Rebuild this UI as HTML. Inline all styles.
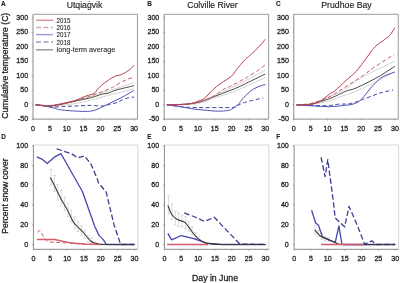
<!DOCTYPE html>
<html><head><meta charset="utf-8"><style>
html,body{margin:0;padding:0;background:#fff;}
svg{display:block;will-change:transform;filter:blur(0.3px);}
text{font-family:"Liberation Sans", sans-serif;stroke:#222;stroke-width:0.3px;}
</style></head><body>
<svg width="400" height="283" viewBox="0 0 400 283">
<rect width="400" height="283" fill="#fff"/>
<path d="M33.0,14.3 H137.47 V119.1" fill="none" stroke="#9a9a9a" stroke-width="1"/>
<path d="M33.0,14.3 V119.1 H137.47" fill="none" stroke="#8a8a8a" stroke-width="1"/>
<path d="M31.8,119.30 H33.0" stroke="#8a8a8a" stroke-width="0.8"/>
<text x="28.1" y="121.45" font-size="8.0" text-anchor="end" font-weight="normal" fill="#222" textLength="10.3" lengthAdjust="spacingAndGlyphs" >-50</text>
<path d="M31.8,104.80 H33.0" stroke="#8a8a8a" stroke-width="0.8"/>
<text x="28.1" y="106.95" font-size="8.0" text-anchor="end" font-weight="normal" fill="#222" textLength="3.95" lengthAdjust="spacingAndGlyphs" >0</text>
<path d="M31.8,90.30 H33.0" stroke="#8a8a8a" stroke-width="0.8"/>
<text x="28.1" y="92.45" font-size="8.0" text-anchor="end" font-weight="normal" fill="#222" textLength="7.9" lengthAdjust="spacingAndGlyphs" >50</text>
<path d="M31.8,75.80 H33.0" stroke="#8a8a8a" stroke-width="0.8"/>
<text x="28.1" y="77.95" font-size="8.0" text-anchor="end" font-weight="normal" fill="#222" textLength="11.850000000000001" lengthAdjust="spacingAndGlyphs" >100</text>
<path d="M31.8,61.30 H33.0" stroke="#8a8a8a" stroke-width="0.8"/>
<text x="28.1" y="63.449999999999996" font-size="8.0" text-anchor="end" font-weight="normal" fill="#222" textLength="11.850000000000001" lengthAdjust="spacingAndGlyphs" >150</text>
<path d="M31.8,46.80 H33.0" stroke="#8a8a8a" stroke-width="0.8"/>
<text x="28.1" y="48.95" font-size="8.0" text-anchor="end" font-weight="normal" fill="#222" textLength="11.850000000000001" lengthAdjust="spacingAndGlyphs" >200</text>
<path d="M31.8,32.30 H33.0" stroke="#8a8a8a" stroke-width="0.8"/>
<text x="28.1" y="34.449999999999996" font-size="8.0" text-anchor="end" font-weight="normal" fill="#222" textLength="11.850000000000001" lengthAdjust="spacingAndGlyphs" >250</text>
<path d="M31.8,17.80 H33.0" stroke="#8a8a8a" stroke-width="0.8"/>
<text x="28.1" y="19.949999999999996" font-size="8.0" text-anchor="end" font-weight="normal" fill="#222" textLength="11.850000000000001" lengthAdjust="spacingAndGlyphs" >300</text>
<path d="M33.00,119.1 V120.3" stroke="#8a8a8a" stroke-width="0.8"/>
<text x="33.00" y="130.79999999999998" font-size="8.0" text-anchor="middle" font-weight="normal" fill="#222" textLength="3.95" lengthAdjust="spacingAndGlyphs" >0</text>
<path d="M49.85,119.1 V120.3" stroke="#8a8a8a" stroke-width="0.8"/>
<text x="49.85" y="130.79999999999998" font-size="8.0" text-anchor="middle" font-weight="normal" fill="#222" textLength="3.95" lengthAdjust="spacingAndGlyphs" >5</text>
<path d="M66.70,119.1 V120.3" stroke="#8a8a8a" stroke-width="0.8"/>
<text x="66.70" y="130.79999999999998" font-size="8.0" text-anchor="middle" font-weight="normal" fill="#222" textLength="7.9" lengthAdjust="spacingAndGlyphs" >10</text>
<path d="M83.55,119.1 V120.3" stroke="#8a8a8a" stroke-width="0.8"/>
<text x="83.55" y="130.79999999999998" font-size="8.0" text-anchor="middle" font-weight="normal" fill="#222" textLength="7.9" lengthAdjust="spacingAndGlyphs" >15</text>
<path d="M100.40,119.1 V120.3" stroke="#8a8a8a" stroke-width="0.8"/>
<text x="100.40" y="130.79999999999998" font-size="8.0" text-anchor="middle" font-weight="normal" fill="#222" textLength="7.9" lengthAdjust="spacingAndGlyphs" >20</text>
<path d="M117.25,119.1 V120.3" stroke="#8a8a8a" stroke-width="0.8"/>
<text x="117.25" y="130.79999999999998" font-size="8.0" text-anchor="middle" font-weight="normal" fill="#222" textLength="7.9" lengthAdjust="spacingAndGlyphs" >25</text>
<path d="M134.10,119.1 V120.3" stroke="#8a8a8a" stroke-width="0.8"/>
<text x="134.10" y="130.79999999999998" font-size="8.0" text-anchor="middle" font-weight="normal" fill="#222" textLength="7.9" lengthAdjust="spacingAndGlyphs" >30</text>
<path d="M35.70,104.80 C38.05,104.90 44.68,105.77 49.85,105.38 C55.02,104.99 61.08,103.64 66.70,102.48 C72.32,101.32 76.64,100.31 83.55,98.42 C90.46,96.53 99.73,93.83 108.15,91.17 C116.58,88.51 129.78,83.92 134.10,82.47" fill="none" stroke="#c8c8c8" stroke-width="0.8" stroke-linejoin="round" opacity="1"/>
<path d="M35.70,104.80 C38.05,105.09 44.68,106.54 49.85,106.54 C55.02,106.54 61.08,105.57 66.70,104.80 C72.32,104.03 76.64,103.45 83.55,101.90 C90.46,100.35 99.73,97.69 108.15,95.52 C116.58,93.34 129.78,89.96 134.10,88.85" fill="none" stroke="#c8c8c8" stroke-width="0.8" stroke-linejoin="round" opacity="1"/>
<path d="M35.70,104.80 C36.93,104.90 40.75,105.19 43.11,105.38 C45.47,105.57 46.48,106.20 49.85,105.96 C53.22,105.72 58.84,104.80 63.33,103.93 C67.82,103.06 72.65,101.66 76.81,100.74 C80.97,99.82 84.90,99.24 88.27,98.42 C91.64,97.60 94.67,96.53 97.03,95.81 C99.39,95.09 100.57,94.50 102.42,94.07 C104.28,93.63 105.85,93.88 108.15,93.20 C110.45,92.52 111.91,91.27 116.24,90.01 C120.56,88.75 131.12,86.38 134.10,85.66" fill="none" stroke="#484848" stroke-width="1.0" stroke-linejoin="round" opacity="1"/>
<path d="M35.70,104.80 C37.49,105.04 43.67,105.86 46.48,106.25 C49.29,106.64 49.74,107.07 52.55,107.12 C55.35,107.17 59.29,106.73 63.33,106.54 C67.37,106.35 72.32,106.15 76.81,105.96 C81.30,105.77 86.02,105.38 90.29,105.38 C94.56,105.38 99.22,106.10 102.42,105.96 C105.62,105.81 107.03,105.09 109.50,104.51 C111.97,103.93 114.67,103.45 117.25,102.48 C119.83,101.51 122.19,99.63 125.00,98.71 C127.81,97.79 132.58,97.26 134.10,96.97" fill="none" stroke="#4848a8" stroke-width="1.0" stroke-dasharray="4,2.5" stroke-linejoin="round" opacity="1"/>
<path d="M35.70,104.80 C36.93,104.94 40.86,105.33 43.11,105.67 C45.36,106.01 47.10,106.35 49.18,106.83 C51.25,107.31 53.78,108.09 55.58,108.57 C57.38,109.05 57.15,109.34 59.96,109.73 C62.77,110.12 68.16,110.60 72.43,110.89 C76.70,111.18 82.31,111.47 85.57,111.47 C88.83,111.47 90.07,111.23 91.97,110.89 C93.88,110.55 94.95,110.29 97.03,109.44 C99.11,108.59 101.80,107.07 104.44,105.81 C107.08,104.56 109.95,103.33 112.87,101.90 C115.79,100.47 118.99,98.85 121.97,97.26 C124.94,95.66 128.71,93.49 130.73,92.33 C132.75,91.17 133.54,90.64 134.10,90.30" fill="none" stroke="#5050b8" stroke-width="1.0" stroke-linejoin="round" opacity="1"/>
<path d="M35.70,104.80 C38.05,104.94 45.24,105.86 49.85,105.67 C54.46,105.48 58.84,104.51 63.33,103.64 C67.82,102.77 72.32,101.71 76.81,100.45 C81.30,99.19 86.92,97.26 90.29,96.10 C93.66,94.94 94.78,94.31 97.03,93.49 C99.28,92.67 101.41,92.09 103.77,91.17 C106.13,90.25 109.50,88.75 111.18,87.98 C112.87,87.21 111.75,87.74 113.88,86.53 C116.01,85.32 120.62,82.33 123.99,80.73 C127.36,79.14 132.42,77.59 134.10,76.96" fill="none" stroke="#c85a68" stroke-width="1.0" stroke-dasharray="4,2.5" stroke-linejoin="round" opacity="1"/>
<path d="M35.70,104.80 C36.93,104.94 40.75,105.48 43.11,105.67 C45.47,105.86 47.60,106.10 49.85,105.96 C52.10,105.81 54.34,105.23 56.59,104.80 C58.84,104.36 61.08,103.83 63.33,103.35 C65.58,102.87 67.82,102.48 70.07,101.90 C72.32,101.32 74.56,100.69 76.81,99.87 C79.06,99.05 81.64,97.74 83.55,96.97 C85.46,96.20 86.53,95.81 88.27,95.23 C90.01,94.65 92.31,94.65 94.00,93.49 C95.68,92.33 96.58,90.06 98.38,88.27 C100.18,86.48 102.14,84.69 104.78,82.76 C107.42,80.83 111.46,78.02 114.22,76.67 C116.97,75.32 119.22,75.46 121.29,74.64 C123.37,73.82 125.11,72.71 126.69,71.74 C128.26,70.77 129.49,69.95 130.73,68.84 C131.97,67.73 133.54,65.70 134.10,65.07" fill="none" stroke="#bc3e4c" stroke-width="1.0" stroke-linejoin="round" opacity="1"/>
<path d="M164.2,14.3 H268.66999999999996 V119.1" fill="none" stroke="#9a9a9a" stroke-width="1"/>
<path d="M164.2,14.3 V119.1 H268.66999999999996" fill="none" stroke="#8a8a8a" stroke-width="1"/>
<path d="M163.0,119.30 H164.2" stroke="#8a8a8a" stroke-width="0.8"/>
<text x="159.29999999999998" y="121.45" font-size="8.0" text-anchor="end" font-weight="normal" fill="#222" textLength="10.3" lengthAdjust="spacingAndGlyphs" >-50</text>
<path d="M163.0,104.80 H164.2" stroke="#8a8a8a" stroke-width="0.8"/>
<text x="159.29999999999998" y="106.95" font-size="8.0" text-anchor="end" font-weight="normal" fill="#222" textLength="3.95" lengthAdjust="spacingAndGlyphs" >0</text>
<path d="M163.0,90.30 H164.2" stroke="#8a8a8a" stroke-width="0.8"/>
<text x="159.29999999999998" y="92.45" font-size="8.0" text-anchor="end" font-weight="normal" fill="#222" textLength="7.9" lengthAdjust="spacingAndGlyphs" >50</text>
<path d="M163.0,75.80 H164.2" stroke="#8a8a8a" stroke-width="0.8"/>
<text x="159.29999999999998" y="77.95" font-size="8.0" text-anchor="end" font-weight="normal" fill="#222" textLength="11.850000000000001" lengthAdjust="spacingAndGlyphs" >100</text>
<path d="M163.0,61.30 H164.2" stroke="#8a8a8a" stroke-width="0.8"/>
<text x="159.29999999999998" y="63.449999999999996" font-size="8.0" text-anchor="end" font-weight="normal" fill="#222" textLength="11.850000000000001" lengthAdjust="spacingAndGlyphs" >150</text>
<path d="M163.0,46.80 H164.2" stroke="#8a8a8a" stroke-width="0.8"/>
<text x="159.29999999999998" y="48.95" font-size="8.0" text-anchor="end" font-weight="normal" fill="#222" textLength="11.850000000000001" lengthAdjust="spacingAndGlyphs" >200</text>
<path d="M163.0,32.30 H164.2" stroke="#8a8a8a" stroke-width="0.8"/>
<text x="159.29999999999998" y="34.449999999999996" font-size="8.0" text-anchor="end" font-weight="normal" fill="#222" textLength="11.850000000000001" lengthAdjust="spacingAndGlyphs" >250</text>
<path d="M163.0,17.80 H164.2" stroke="#8a8a8a" stroke-width="0.8"/>
<text x="159.29999999999998" y="19.949999999999996" font-size="8.0" text-anchor="end" font-weight="normal" fill="#222" textLength="11.850000000000001" lengthAdjust="spacingAndGlyphs" >300</text>
<path d="M164.20,119.1 V120.3" stroke="#8a8a8a" stroke-width="0.8"/>
<text x="164.20" y="130.79999999999998" font-size="8.0" text-anchor="middle" font-weight="normal" fill="#222" textLength="3.95" lengthAdjust="spacingAndGlyphs" >0</text>
<path d="M181.05,119.1 V120.3" stroke="#8a8a8a" stroke-width="0.8"/>
<text x="181.05" y="130.79999999999998" font-size="8.0" text-anchor="middle" font-weight="normal" fill="#222" textLength="3.95" lengthAdjust="spacingAndGlyphs" >5</text>
<path d="M197.90,119.1 V120.3" stroke="#8a8a8a" stroke-width="0.8"/>
<text x="197.90" y="130.79999999999998" font-size="8.0" text-anchor="middle" font-weight="normal" fill="#222" textLength="7.9" lengthAdjust="spacingAndGlyphs" >10</text>
<path d="M214.75,119.1 V120.3" stroke="#8a8a8a" stroke-width="0.8"/>
<text x="214.75" y="130.79999999999998" font-size="8.0" text-anchor="middle" font-weight="normal" fill="#222" textLength="7.9" lengthAdjust="spacingAndGlyphs" >15</text>
<path d="M231.60,119.1 V120.3" stroke="#8a8a8a" stroke-width="0.8"/>
<text x="231.60" y="130.79999999999998" font-size="8.0" text-anchor="middle" font-weight="normal" fill="#222" textLength="7.9" lengthAdjust="spacingAndGlyphs" >20</text>
<path d="M248.45,119.1 V120.3" stroke="#8a8a8a" stroke-width="0.8"/>
<text x="248.45" y="130.79999999999998" font-size="8.0" text-anchor="middle" font-weight="normal" fill="#222" textLength="7.9" lengthAdjust="spacingAndGlyphs" >25</text>
<path d="M265.30,119.1 V120.3" stroke="#8a8a8a" stroke-width="0.8"/>
<text x="265.30" y="130.79999999999998" font-size="8.0" text-anchor="middle" font-weight="normal" fill="#222" textLength="7.9" lengthAdjust="spacingAndGlyphs" >30</text>
<path d="M166.90,104.80 C169.25,104.70 175.88,104.70 181.05,104.22 C186.22,103.74 192.28,103.40 197.90,101.90 C203.52,100.40 208.23,98.03 214.75,95.23 C221.27,92.43 228.57,89.24 236.99,85.08 C245.42,80.92 260.58,72.75 265.30,70.29" fill="none" stroke="#c8c8c8" stroke-width="0.8" stroke-linejoin="round" opacity="1"/>
<path d="M166.90,104.80 C169.25,104.80 175.88,104.99 181.05,104.80 C186.22,104.61 192.28,104.80 197.90,103.64 C203.52,102.48 208.23,100.06 214.75,97.84 C221.27,95.62 228.57,93.68 236.99,90.30 C245.42,86.92 260.58,79.67 265.30,77.54" fill="none" stroke="#c8c8c8" stroke-width="0.8" stroke-linejoin="round" opacity="1"/>
<path d="M166.90,104.80 C169.25,104.75 176.44,104.80 181.05,104.51 C185.66,104.22 190.60,103.74 194.53,103.06 C198.46,102.38 201.27,101.56 204.64,100.45 C208.01,99.34 209.36,98.52 214.75,96.39 C220.14,94.26 231.38,90.06 236.99,87.69 C242.61,85.32 243.73,84.45 248.45,82.18 C253.17,79.91 262.49,75.41 265.30,74.06" fill="none" stroke="#484848" stroke-width="1.0" stroke-linejoin="round" opacity="1"/>
<path d="M166.90,104.80 C168.69,105.04 173.47,105.81 177.68,106.25 C181.89,106.69 182.96,107.22 192.17,107.41 C201.38,107.60 225.20,107.84 232.95,107.41 C240.70,106.97 236.26,105.77 238.68,104.80 C241.09,103.83 243.34,102.76 247.44,101.61 C251.54,100.46 260.64,98.52 263.28,97.90" fill="none" stroke="#4848a8" stroke-width="1.0" stroke-dasharray="4,2.5" stroke-linejoin="round" opacity="1"/>
<path d="M166.90,104.80 C168.69,105.04 173.02,105.53 177.68,106.25 C182.34,106.97 190.09,108.48 194.87,109.15 C199.64,109.82 202.56,109.91 206.32,110.25 C210.09,110.59 213.71,111.17 217.45,111.18 C221.18,111.19 225.93,110.94 228.74,110.31 C231.54,109.68 232.41,108.72 234.30,107.41 C236.18,106.10 238.68,103.88 240.02,102.48 C241.37,101.08 240.76,100.79 242.38,99.00 C244.01,97.21 247.33,93.73 249.80,91.75 C252.27,89.77 254.63,88.32 257.21,87.11 C259.80,85.90 263.95,84.94 265.30,84.50" fill="none" stroke="#5050b8" stroke-width="1.0" stroke-linejoin="round" opacity="1"/>
<path d="M166.90,104.80 C169.25,104.75 176.44,104.80 181.05,104.51 C185.66,104.22 190.60,103.74 194.53,103.06 C198.46,102.38 201.27,101.71 204.64,100.45 C208.01,99.19 211.55,97.41 214.75,95.52 C217.95,93.63 221.04,90.78 223.85,89.14 C226.66,87.50 228.12,87.40 231.60,85.66 C235.08,83.92 241.77,80.34 244.74,78.70 C247.72,77.06 247.16,77.25 249.46,75.80 C251.76,74.35 255.92,71.84 258.56,70.00 C261.20,68.16 264.18,65.65 265.30,64.78" fill="none" stroke="#c85a68" stroke-width="1.0" stroke-dasharray="4,2.5" stroke-linejoin="round" opacity="1"/>
<path d="M166.90,104.80 C169.25,104.75 177.01,104.70 181.05,104.51 C185.09,104.32 188.21,104.22 191.16,103.64 C194.11,103.06 196.44,102.00 198.74,101.03 C201.05,100.06 202.62,99.73 204.98,97.84 C207.34,95.95 210.26,92.14 212.90,89.72 C215.54,87.30 217.75,85.56 220.82,83.34 C223.88,81.12 228.62,78.70 231.26,76.38 C233.90,74.06 234.41,72.17 236.65,69.42 C238.90,66.67 242.78,61.98 244.74,59.85 C246.71,57.72 246.32,58.59 248.45,56.66 C250.58,54.73 254.74,51.15 257.55,48.25 C260.36,45.35 264.01,40.76 265.30,39.26" fill="none" stroke="#bc3e4c" stroke-width="1.0" stroke-linejoin="round" opacity="1"/>
<path d="M293.8,14.3 H398.27 V119.1" fill="none" stroke="#9a9a9a" stroke-width="1"/>
<path d="M293.8,14.3 V119.1 H398.27" fill="none" stroke="#8a8a8a" stroke-width="1"/>
<path d="M292.6,119.30 H293.8" stroke="#8a8a8a" stroke-width="0.8"/>
<text x="288.90000000000003" y="121.45" font-size="8.0" text-anchor="end" font-weight="normal" fill="#222" textLength="10.3" lengthAdjust="spacingAndGlyphs" >-50</text>
<path d="M292.6,104.80 H293.8" stroke="#8a8a8a" stroke-width="0.8"/>
<text x="288.90000000000003" y="106.95" font-size="8.0" text-anchor="end" font-weight="normal" fill="#222" textLength="3.95" lengthAdjust="spacingAndGlyphs" >0</text>
<path d="M292.6,90.30 H293.8" stroke="#8a8a8a" stroke-width="0.8"/>
<text x="288.90000000000003" y="92.45" font-size="8.0" text-anchor="end" font-weight="normal" fill="#222" textLength="7.9" lengthAdjust="spacingAndGlyphs" >50</text>
<path d="M292.6,75.80 H293.8" stroke="#8a8a8a" stroke-width="0.8"/>
<text x="288.90000000000003" y="77.95" font-size="8.0" text-anchor="end" font-weight="normal" fill="#222" textLength="11.850000000000001" lengthAdjust="spacingAndGlyphs" >100</text>
<path d="M292.6,61.30 H293.8" stroke="#8a8a8a" stroke-width="0.8"/>
<text x="288.90000000000003" y="63.449999999999996" font-size="8.0" text-anchor="end" font-weight="normal" fill="#222" textLength="11.850000000000001" lengthAdjust="spacingAndGlyphs" >150</text>
<path d="M292.6,46.80 H293.8" stroke="#8a8a8a" stroke-width="0.8"/>
<text x="288.90000000000003" y="48.95" font-size="8.0" text-anchor="end" font-weight="normal" fill="#222" textLength="11.850000000000001" lengthAdjust="spacingAndGlyphs" >200</text>
<path d="M292.6,32.30 H293.8" stroke="#8a8a8a" stroke-width="0.8"/>
<text x="288.90000000000003" y="34.449999999999996" font-size="8.0" text-anchor="end" font-weight="normal" fill="#222" textLength="11.850000000000001" lengthAdjust="spacingAndGlyphs" >250</text>
<path d="M292.6,17.80 H293.8" stroke="#8a8a8a" stroke-width="0.8"/>
<text x="288.90000000000003" y="19.949999999999996" font-size="8.0" text-anchor="end" font-weight="normal" fill="#222" textLength="11.850000000000001" lengthAdjust="spacingAndGlyphs" >300</text>
<path d="M293.80,119.1 V120.3" stroke="#8a8a8a" stroke-width="0.8"/>
<text x="293.80" y="130.79999999999998" font-size="8.0" text-anchor="middle" font-weight="normal" fill="#222" textLength="3.95" lengthAdjust="spacingAndGlyphs" >0</text>
<path d="M310.65,119.1 V120.3" stroke="#8a8a8a" stroke-width="0.8"/>
<text x="310.65" y="130.79999999999998" font-size="8.0" text-anchor="middle" font-weight="normal" fill="#222" textLength="3.95" lengthAdjust="spacingAndGlyphs" >5</text>
<path d="M327.50,119.1 V120.3" stroke="#8a8a8a" stroke-width="0.8"/>
<text x="327.50" y="130.79999999999998" font-size="8.0" text-anchor="middle" font-weight="normal" fill="#222" textLength="7.9" lengthAdjust="spacingAndGlyphs" >10</text>
<path d="M344.35,119.1 V120.3" stroke="#8a8a8a" stroke-width="0.8"/>
<text x="344.35" y="130.79999999999998" font-size="8.0" text-anchor="middle" font-weight="normal" fill="#222" textLength="7.9" lengthAdjust="spacingAndGlyphs" >15</text>
<path d="M361.20,119.1 V120.3" stroke="#8a8a8a" stroke-width="0.8"/>
<text x="361.20" y="130.79999999999998" font-size="8.0" text-anchor="middle" font-weight="normal" fill="#222" textLength="7.9" lengthAdjust="spacingAndGlyphs" >20</text>
<path d="M378.05,119.1 V120.3" stroke="#8a8a8a" stroke-width="0.8"/>
<text x="378.05" y="130.79999999999998" font-size="8.0" text-anchor="middle" font-weight="normal" fill="#222" textLength="7.9" lengthAdjust="spacingAndGlyphs" >25</text>
<path d="M394.90,119.1 V120.3" stroke="#8a8a8a" stroke-width="0.8"/>
<text x="394.90" y="130.79999999999998" font-size="8.0" text-anchor="middle" font-weight="normal" fill="#222" textLength="7.9" lengthAdjust="spacingAndGlyphs" >30</text>
<path d="M296.50,104.80 C298.86,104.61 305.20,104.99 310.65,103.64 C316.10,102.29 323.57,99.00 329.19,96.68 C334.80,94.36 339.07,92.81 344.35,89.72 C349.63,86.63 352.44,82.91 360.86,78.12 C369.29,73.34 389.23,63.86 394.90,61.01" fill="none" stroke="#c8c8c8" stroke-width="0.8" stroke-linejoin="round" opacity="1"/>
<path d="M296.50,104.80 C298.86,104.80 305.20,105.48 310.65,104.80 C316.10,104.12 324.33,102.04 329.19,100.74 C334.04,99.44 334.46,98.95 339.80,96.97 C345.14,94.99 352.02,93.05 361.20,88.85 C370.38,84.64 389.28,74.59 394.90,71.74" fill="none" stroke="#c8c8c8" stroke-width="0.8" stroke-linejoin="round" opacity="1"/>
<path d="M296.50,104.80 C298.86,104.70 305.20,105.23 310.65,104.22 C316.10,103.20 324.33,100.40 329.19,98.71 C334.04,97.02 336.88,95.38 339.80,94.07 C342.72,92.76 343.87,91.94 346.71,90.88 C349.55,89.82 351.60,90.01 356.82,87.69 C362.04,85.37 371.70,80.54 378.05,76.96 C384.40,73.38 392.09,68.02 394.90,66.23" fill="none" stroke="#484848" stroke-width="1.0" stroke-linejoin="round" opacity="1"/>
<path d="M296.50,104.80 C298.86,104.90 305.48,105.23 310.65,105.38 C315.82,105.52 322.95,105.86 327.50,105.67 C332.05,105.48 334.24,104.56 337.95,104.22 C341.65,103.88 345.64,104.41 349.74,103.64 C353.84,102.87 357.61,101.32 362.55,99.58 C367.49,97.84 374.29,94.80 379.40,93.20 C384.51,91.61 390.91,90.54 393.22,90.01" fill="none" stroke="#4848a8" stroke-width="1.0" stroke-dasharray="4,2.5" stroke-linejoin="round" opacity="1"/>
<path d="M296.50,104.80 C299.00,104.97 306.04,105.50 311.49,105.81 C316.94,106.13 323.65,106.76 329.19,106.69 C334.72,106.61 340.53,105.86 344.69,105.38 C348.84,104.90 351.48,104.66 354.12,103.78 C356.76,102.91 358.45,101.92 360.53,100.16 C362.60,98.40 364.74,95.42 366.59,93.20 C368.45,90.98 369.51,89.14 371.65,86.82 C373.78,84.50 377.21,81.12 379.40,79.28 C381.59,77.44 382.21,77.01 384.79,75.80 C387.37,74.59 393.22,72.66 394.90,72.03" fill="none" stroke="#5050b8" stroke-width="1.0" stroke-linejoin="round" opacity="1"/>
<path d="M296.50,104.80 C299.02,104.56 306.21,104.66 311.66,103.35 C317.11,102.04 324.86,98.86 329.19,96.97 C333.51,95.08 334.18,94.17 337.61,92.04 C341.04,89.91 345.59,86.92 349.74,84.21 C353.90,81.50 358.28,78.75 362.55,75.80 C366.82,72.85 370.07,70.10 375.35,66.52 C380.63,62.94 391.08,56.37 394.23,54.34" fill="none" stroke="#c85a68" stroke-width="1.0" stroke-dasharray="4,2.5" stroke-linejoin="round" opacity="1"/>
<path d="M296.50,104.80 C297.73,104.80 301.38,104.90 303.91,104.80 C306.44,104.70 308.97,104.80 311.66,104.22 C314.36,103.64 317.17,102.96 320.09,101.32 C323.01,99.68 326.71,96.10 329.19,94.36 C331.66,92.62 332.11,93.20 334.91,90.88 C337.72,88.56 342.50,83.68 346.04,80.44 C349.57,77.20 352.72,75.22 356.14,71.45 C359.57,67.68 363.50,61.88 366.59,57.82 C369.68,53.76 371.82,50.04 374.68,47.09 C377.54,44.14 381.25,42.11 383.78,40.13 C386.31,38.15 387.99,37.28 389.85,35.20 C391.70,33.12 394.06,28.92 394.90,27.66" fill="none" stroke="#bc3e4c" stroke-width="1.0" stroke-linejoin="round" opacity="1"/>
<path d="M33.4,145.0 H137.87 V249.3" fill="none" stroke="#d8d8d8" stroke-width="1"/>
<path d="M33.4,145.0 V249.3 H137.87" fill="none" stroke="#8a8a8a" stroke-width="1"/>
<path d="M32.199999999999996,244.50 H33.4" stroke="#8a8a8a" stroke-width="0.8"/>
<text x="28.099999999999998" y="246.65" font-size="8.0" text-anchor="end" font-weight="normal" fill="#222" textLength="3.95" lengthAdjust="spacingAndGlyphs" >0</text>
<path d="M32.199999999999996,224.76 H33.4" stroke="#8a8a8a" stroke-width="0.8"/>
<text x="28.099999999999998" y="226.91" font-size="8.0" text-anchor="end" font-weight="normal" fill="#222" textLength="7.9" lengthAdjust="spacingAndGlyphs" >20</text>
<path d="M32.199999999999996,205.02 H33.4" stroke="#8a8a8a" stroke-width="0.8"/>
<text x="28.099999999999998" y="207.17000000000002" font-size="8.0" text-anchor="end" font-weight="normal" fill="#222" textLength="7.9" lengthAdjust="spacingAndGlyphs" >40</text>
<path d="M32.199999999999996,185.28 H33.4" stroke="#8a8a8a" stroke-width="0.8"/>
<text x="28.099999999999998" y="187.43" font-size="8.0" text-anchor="end" font-weight="normal" fill="#222" textLength="7.9" lengthAdjust="spacingAndGlyphs" >60</text>
<path d="M32.199999999999996,165.54 H33.4" stroke="#8a8a8a" stroke-width="0.8"/>
<text x="28.099999999999998" y="167.69000000000003" font-size="8.0" text-anchor="end" font-weight="normal" fill="#222" textLength="7.9" lengthAdjust="spacingAndGlyphs" >80</text>
<path d="M32.199999999999996,145.80 H33.4" stroke="#8a8a8a" stroke-width="0.8"/>
<text x="28.099999999999998" y="147.95000000000002" font-size="8.0" text-anchor="end" font-weight="normal" fill="#222" textLength="11.850000000000001" lengthAdjust="spacingAndGlyphs" >100</text>
<path d="M33.40,249.3 V250.5" stroke="#8a8a8a" stroke-width="0.8"/>
<text x="33.40" y="260.8" font-size="8.0" text-anchor="middle" font-weight="normal" fill="#222" textLength="3.95" lengthAdjust="spacingAndGlyphs" >0</text>
<path d="M50.25,249.3 V250.5" stroke="#8a8a8a" stroke-width="0.8"/>
<text x="50.25" y="260.8" font-size="8.0" text-anchor="middle" font-weight="normal" fill="#222" textLength="3.95" lengthAdjust="spacingAndGlyphs" >5</text>
<path d="M67.10,249.3 V250.5" stroke="#8a8a8a" stroke-width="0.8"/>
<text x="67.10" y="260.8" font-size="8.0" text-anchor="middle" font-weight="normal" fill="#222" textLength="7.9" lengthAdjust="spacingAndGlyphs" >10</text>
<path d="M83.95,249.3 V250.5" stroke="#8a8a8a" stroke-width="0.8"/>
<text x="83.95" y="260.8" font-size="8.0" text-anchor="middle" font-weight="normal" fill="#222" textLength="7.9" lengthAdjust="spacingAndGlyphs" >15</text>
<path d="M100.80,249.3 V250.5" stroke="#8a8a8a" stroke-width="0.8"/>
<text x="100.80" y="260.8" font-size="8.0" text-anchor="middle" font-weight="normal" fill="#222" textLength="7.9" lengthAdjust="spacingAndGlyphs" >20</text>
<path d="M117.65,249.3 V250.5" stroke="#8a8a8a" stroke-width="0.8"/>
<text x="117.65" y="260.8" font-size="8.0" text-anchor="middle" font-weight="normal" fill="#222" textLength="7.9" lengthAdjust="spacingAndGlyphs" >25</text>
<path d="M134.50,249.3 V250.5" stroke="#8a8a8a" stroke-width="0.8"/>
<text x="134.50" y="260.8" font-size="8.0" text-anchor="middle" font-weight="normal" fill="#222" textLength="7.9" lengthAdjust="spacingAndGlyphs" >30</text>
<path d="M51.05,169.49 V185.28 M49.55,169.49 h3 M49.55,185.28 h3" stroke="#d0d0d0" stroke-width="0.8" fill="none"/>
<path d="M54.42,175.41 V191.20 M52.92,175.41 h3 M52.92,191.20 h3" stroke="#d0d0d0" stroke-width="0.8" fill="none"/>
<path d="M57.79,184.29 V200.09 M56.29,184.29 h3 M56.29,200.09 h3" stroke="#d0d0d0" stroke-width="0.8" fill="none"/>
<path d="M61.16,190.22 V206.01 M59.66,190.22 h3 M59.66,206.01 h3" stroke="#d0d0d0" stroke-width="0.8" fill="none"/>
<path d="M64.53,197.12 V210.94 M63.03,197.12 h3 M63.03,210.94 h3" stroke="#d0d0d0" stroke-width="0.8" fill="none"/>
<path d="M67.90,203.05 V216.86 M66.40,203.05 h3 M66.40,216.86 h3" stroke="#d0d0d0" stroke-width="0.8" fill="none"/>
<path d="M71.27,209.95 V221.80 M69.77,209.95 h3 M69.77,221.80 h3" stroke="#d0d0d0" stroke-width="0.8" fill="none"/>
<path d="M74.64,216.86 V228.71 M73.14,216.86 h3 M73.14,228.71 h3" stroke="#d0d0d0" stroke-width="0.8" fill="none"/>
<path d="M78.01,221.80 V231.67 M76.51,221.80 h3 M76.51,231.67 h3" stroke="#d0d0d0" stroke-width="0.8" fill="none"/>
<path d="M81.38,225.75 V235.62 M79.88,225.75 h3 M79.88,235.62 h3" stroke="#d0d0d0" stroke-width="0.8" fill="none"/>
<path d="M84.75,230.68 V238.58 M83.25,230.68 h3 M83.25,238.58 h3" stroke="#d0d0d0" stroke-width="0.8" fill="none"/>
<path d="M88.12,235.62 V241.54 M86.62,235.62 h3 M86.62,241.54 h3" stroke="#d0d0d0" stroke-width="0.8" fill="none"/>
<path d="M91.49,237.59 V243.51 M89.99,237.59 h3 M89.99,243.51 h3" stroke="#d0d0d0" stroke-width="0.8" fill="none"/>
<path d="M36.77,156.95 L41.83,159.12 L47.22,163.57 L54.63,156.95 L61.03,153.70 L82.27,191.20 L94.90,226.83 L99.12,235.62 L103.50,239.86 L106.19,244.50 L134.50,244.50" fill="none" stroke="#4646b0" stroke-width="1.3" stroke-linejoin="round" opacity="1"/>
<path d="M56.65,148.76 L71.48,153.70 L77.88,157.94 L84.29,155.87 L90.69,163.57 L97.09,178.37 L98.44,182.62 L106.19,192.19 L113.94,224.46 L120.68,244.50 L134.50,244.50" fill="none" stroke="#3c3c90" stroke-width="1.3" stroke-dasharray="5.5,2.5" stroke-linejoin="round" opacity="1"/>
<path d="M50.25,177.38 C50.76,178.37 54.23,185.08 55.30,187.25 C56.38,189.43 59.82,196.83 61.03,199.10 C62.25,201.37 66.16,207.59 67.44,209.95 C68.72,212.32 72.36,220.65 73.84,222.79 C75.32,224.92 80.58,229.46 82.27,231.27 C83.95,233.09 89.00,239.66 90.69,240.95 C92.38,242.23 97.43,243.75 99.12,244.11 C100.80,244.46 104.00,244.46 107.54,244.50 C111.08,244.54 131.80,244.50 134.50,244.50" fill="none" stroke="#383838" stroke-width="1.1" stroke-linejoin="round" opacity="1"/>
<path d="M36.77,239.47 L54.63,239.47 L71.48,243.12 L83.95,244.11 L99.79,244.50" fill="none" stroke="#d45a68" stroke-width="1.5" stroke-linejoin="round" opacity="1"/>
<path d="M37.61,232.36 L39.80,230.09 L44.18,238.08 L48.23,241.93 L70.47,243.12 L87.32,244.50" fill="none" stroke="#c85a68" stroke-width="1.0" stroke-dasharray="4,2.5" stroke-linejoin="round" opacity="1"/>
<path d="M164.4,145.0 H268.87 V249.3" fill="none" stroke="#d8d8d8" stroke-width="1"/>
<path d="M164.4,145.0 V249.3 H268.87" fill="none" stroke="#8a8a8a" stroke-width="1"/>
<path d="M163.20000000000002,244.50 H164.4" stroke="#8a8a8a" stroke-width="0.8"/>
<text x="159.1" y="246.65" font-size="8.0" text-anchor="end" font-weight="normal" fill="#222" textLength="3.95" lengthAdjust="spacingAndGlyphs" >0</text>
<path d="M163.20000000000002,224.76 H164.4" stroke="#8a8a8a" stroke-width="0.8"/>
<text x="159.1" y="226.91" font-size="8.0" text-anchor="end" font-weight="normal" fill="#222" textLength="7.9" lengthAdjust="spacingAndGlyphs" >20</text>
<path d="M163.20000000000002,205.02 H164.4" stroke="#8a8a8a" stroke-width="0.8"/>
<text x="159.1" y="207.17000000000002" font-size="8.0" text-anchor="end" font-weight="normal" fill="#222" textLength="7.9" lengthAdjust="spacingAndGlyphs" >40</text>
<path d="M163.20000000000002,185.28 H164.4" stroke="#8a8a8a" stroke-width="0.8"/>
<text x="159.1" y="187.43" font-size="8.0" text-anchor="end" font-weight="normal" fill="#222" textLength="7.9" lengthAdjust="spacingAndGlyphs" >60</text>
<path d="M163.20000000000002,165.54 H164.4" stroke="#8a8a8a" stroke-width="0.8"/>
<text x="159.1" y="167.69000000000003" font-size="8.0" text-anchor="end" font-weight="normal" fill="#222" textLength="7.9" lengthAdjust="spacingAndGlyphs" >80</text>
<path d="M163.20000000000002,145.80 H164.4" stroke="#8a8a8a" stroke-width="0.8"/>
<text x="159.1" y="147.95000000000002" font-size="8.0" text-anchor="end" font-weight="normal" fill="#222" textLength="11.850000000000001" lengthAdjust="spacingAndGlyphs" >100</text>
<path d="M164.40,249.3 V250.5" stroke="#8a8a8a" stroke-width="0.8"/>
<text x="164.40" y="260.8" font-size="8.0" text-anchor="middle" font-weight="normal" fill="#222" textLength="3.95" lengthAdjust="spacingAndGlyphs" >0</text>
<path d="M181.25,249.3 V250.5" stroke="#8a8a8a" stroke-width="0.8"/>
<text x="181.25" y="260.8" font-size="8.0" text-anchor="middle" font-weight="normal" fill="#222" textLength="3.95" lengthAdjust="spacingAndGlyphs" >5</text>
<path d="M198.10,249.3 V250.5" stroke="#8a8a8a" stroke-width="0.8"/>
<text x="198.10" y="260.8" font-size="8.0" text-anchor="middle" font-weight="normal" fill="#222" textLength="7.9" lengthAdjust="spacingAndGlyphs" >10</text>
<path d="M214.95,249.3 V250.5" stroke="#8a8a8a" stroke-width="0.8"/>
<text x="214.95" y="260.8" font-size="8.0" text-anchor="middle" font-weight="normal" fill="#222" textLength="7.9" lengthAdjust="spacingAndGlyphs" >15</text>
<path d="M231.80,249.3 V250.5" stroke="#8a8a8a" stroke-width="0.8"/>
<text x="231.80" y="260.8" font-size="8.0" text-anchor="middle" font-weight="normal" fill="#222" textLength="7.9" lengthAdjust="spacingAndGlyphs" >20</text>
<path d="M248.65,249.3 V250.5" stroke="#8a8a8a" stroke-width="0.8"/>
<text x="248.65" y="260.8" font-size="8.0" text-anchor="middle" font-weight="normal" fill="#222" textLength="7.9" lengthAdjust="spacingAndGlyphs" >25</text>
<path d="M265.50,249.3 V250.5" stroke="#8a8a8a" stroke-width="0.8"/>
<text x="265.50" y="260.8" font-size="8.0" text-anchor="middle" font-weight="normal" fill="#222" textLength="7.9" lengthAdjust="spacingAndGlyphs" >30</text>
<path d="M168.57,196.14 V213.90 M167.07,196.14 h3 M167.07,213.90 h3" stroke="#d0d0d0" stroke-width="0.8" fill="none"/>
<path d="M171.94,204.03 V219.82 M170.44,204.03 h3 M170.44,219.82 h3" stroke="#d0d0d0" stroke-width="0.8" fill="none"/>
<path d="M175.31,210.94 V224.76 M173.81,210.94 h3 M173.81,224.76 h3" stroke="#d0d0d0" stroke-width="0.8" fill="none"/>
<path d="M178.68,212.92 V226.73 M177.18,212.92 h3 M177.18,226.73 h3" stroke="#d0d0d0" stroke-width="0.8" fill="none"/>
<path d="M182.05,214.89 V226.73 M180.55,214.89 h3 M180.55,226.73 h3" stroke="#d0d0d0" stroke-width="0.8" fill="none"/>
<path d="M185.42,216.86 V228.71 M183.92,216.86 h3 M183.92,228.71 h3" stroke="#d0d0d0" stroke-width="0.8" fill="none"/>
<path d="M188.79,221.80 V231.67 M187.29,221.80 h3 M187.29,231.67 h3" stroke="#d0d0d0" stroke-width="0.8" fill="none"/>
<path d="M192.16,226.73 V234.63 M190.66,226.73 h3 M190.66,234.63 h3" stroke="#d0d0d0" stroke-width="0.8" fill="none"/>
<path d="M195.53,232.66 V238.58 M194.03,232.66 h3 M194.03,238.58 h3" stroke="#d0d0d0" stroke-width="0.8" fill="none"/>
<path d="M198.90,236.60 V240.55 M197.40,236.60 h3 M197.40,240.55 h3" stroke="#d0d0d0" stroke-width="0.8" fill="none"/>
<path d="M167.90,233.35 L171.48,239.86 L181.25,235.52 L193.72,238.68 L206.53,243.12 L221.69,244.50 L265.50,244.50" fill="none" stroke="#4646b0" stroke-width="1.3" stroke-linejoin="round" opacity="1"/>
<path d="M184.28,212.92 L195.74,217.26 L204.50,221.50 L214.28,217.26 L223.38,226.83 L239.89,244.11 L265.50,244.50" fill="none" stroke="#3c3c90" stroke-width="1.3" stroke-dasharray="5.5,2.5" stroke-linejoin="round" opacity="1"/>
<path d="M167.90,205.41 C168.26,206.27 170.58,212.61 171.48,214.00 C172.37,215.39 175.49,218.47 176.87,219.33 C178.25,220.19 183.81,221.39 185.29,222.59 C186.78,223.78 190.42,229.67 191.70,231.27 C192.98,232.88 196.62,237.49 198.10,238.68 C199.58,239.86 204.17,242.54 206.53,243.12 C208.88,243.70 215.79,244.36 221.69,244.50 C227.59,244.64 261.12,244.50 265.50,244.50" fill="none" stroke="#383838" stroke-width="1.1" stroke-linejoin="round" opacity="1"/>
<path d="M167.10,244.50 L208.21,244.50" fill="none" stroke="#d45a68" stroke-width="1.5" stroke-linejoin="round" opacity="1"/>
<path d="M294.1,145.0 H398.57000000000005 V249.3" fill="none" stroke="#d8d8d8" stroke-width="1"/>
<path d="M294.1,145.0 V249.3 H398.57000000000005" fill="none" stroke="#8a8a8a" stroke-width="1"/>
<path d="M292.90000000000003,244.50 H294.1" stroke="#8a8a8a" stroke-width="0.8"/>
<text x="288.8" y="246.65" font-size="8.0" text-anchor="end" font-weight="normal" fill="#222" textLength="3.95" lengthAdjust="spacingAndGlyphs" >0</text>
<path d="M292.90000000000003,224.76 H294.1" stroke="#8a8a8a" stroke-width="0.8"/>
<text x="288.8" y="226.91" font-size="8.0" text-anchor="end" font-weight="normal" fill="#222" textLength="7.9" lengthAdjust="spacingAndGlyphs" >20</text>
<path d="M292.90000000000003,205.02 H294.1" stroke="#8a8a8a" stroke-width="0.8"/>
<text x="288.8" y="207.17000000000002" font-size="8.0" text-anchor="end" font-weight="normal" fill="#222" textLength="7.9" lengthAdjust="spacingAndGlyphs" >40</text>
<path d="M292.90000000000003,185.28 H294.1" stroke="#8a8a8a" stroke-width="0.8"/>
<text x="288.8" y="187.43" font-size="8.0" text-anchor="end" font-weight="normal" fill="#222" textLength="7.9" lengthAdjust="spacingAndGlyphs" >60</text>
<path d="M292.90000000000003,165.54 H294.1" stroke="#8a8a8a" stroke-width="0.8"/>
<text x="288.8" y="167.69000000000003" font-size="8.0" text-anchor="end" font-weight="normal" fill="#222" textLength="7.9" lengthAdjust="spacingAndGlyphs" >80</text>
<path d="M292.90000000000003,145.80 H294.1" stroke="#8a8a8a" stroke-width="0.8"/>
<text x="288.8" y="147.95000000000002" font-size="8.0" text-anchor="end" font-weight="normal" fill="#222" textLength="11.850000000000001" lengthAdjust="spacingAndGlyphs" >100</text>
<path d="M294.10,249.3 V250.5" stroke="#8a8a8a" stroke-width="0.8"/>
<text x="294.10" y="260.8" font-size="8.0" text-anchor="middle" font-weight="normal" fill="#222" textLength="3.95" lengthAdjust="spacingAndGlyphs" >0</text>
<path d="M310.95,249.3 V250.5" stroke="#8a8a8a" stroke-width="0.8"/>
<text x="310.95" y="260.8" font-size="8.0" text-anchor="middle" font-weight="normal" fill="#222" textLength="3.95" lengthAdjust="spacingAndGlyphs" >5</text>
<path d="M327.80,249.3 V250.5" stroke="#8a8a8a" stroke-width="0.8"/>
<text x="327.80" y="260.8" font-size="8.0" text-anchor="middle" font-weight="normal" fill="#222" textLength="7.9" lengthAdjust="spacingAndGlyphs" >10</text>
<path d="M344.65,249.3 V250.5" stroke="#8a8a8a" stroke-width="0.8"/>
<text x="344.65" y="260.8" font-size="8.0" text-anchor="middle" font-weight="normal" fill="#222" textLength="7.9" lengthAdjust="spacingAndGlyphs" >15</text>
<path d="M361.50,249.3 V250.5" stroke="#8a8a8a" stroke-width="0.8"/>
<text x="361.50" y="260.8" font-size="8.0" text-anchor="middle" font-weight="normal" fill="#222" textLength="7.9" lengthAdjust="spacingAndGlyphs" >20</text>
<path d="M378.35,249.3 V250.5" stroke="#8a8a8a" stroke-width="0.8"/>
<text x="378.35" y="260.8" font-size="8.0" text-anchor="middle" font-weight="normal" fill="#222" textLength="7.9" lengthAdjust="spacingAndGlyphs" >25</text>
<path d="M395.20,249.3 V250.5" stroke="#8a8a8a" stroke-width="0.8"/>
<text x="395.20" y="260.8" font-size="8.0" text-anchor="middle" font-weight="normal" fill="#222" textLength="7.9" lengthAdjust="spacingAndGlyphs" >30</text>
<path d="M315.12,225.75 V233.64 M313.62,225.75 h3 M313.62,233.64 h3" stroke="#d0d0d0" stroke-width="0.8" fill="none"/>
<path d="M318.49,230.68 V236.60 M316.99,230.68 h3 M316.99,236.60 h3" stroke="#d0d0d0" stroke-width="0.8" fill="none"/>
<path d="M321.86,233.64 V239.56 M320.36,233.64 h3 M320.36,239.56 h3" stroke="#d0d0d0" stroke-width="0.8" fill="none"/>
<path d="M325.23,236.60 V240.55 M323.73,236.60 h3 M323.73,240.55 h3" stroke="#d0d0d0" stroke-width="0.8" fill="none"/>
<path d="M328.60,237.59 V241.54 M327.10,237.59 h3 M327.10,241.54 h3" stroke="#d0d0d0" stroke-width="0.8" fill="none"/>
<path d="M311.62,210.25 L315.67,222.98 L318.36,224.96 L322.41,236.80 L335.21,242.72 L338.92,225.94 L341.95,244.50 L395.20,244.50" fill="none" stroke="#4646b0" stroke-width="1.3" stroke-linejoin="round" opacity="1"/>
<path d="M321.06,157.35 L325.10,176.69 L327.80,159.62 L333.19,200.48 L335.21,218.05 L344.65,226.83 L349.03,206.50 L357.12,224.76 L364.53,244.11 L371.95,240.85 L375.99,244.50 L395.20,244.50" fill="none" stroke="#3c3c90" stroke-width="1.3" stroke-dasharray="5.5,2.5" stroke-linejoin="round" opacity="1"/>
<path d="M314.66,229.89 C315.33,230.58 319.34,235.57 321.40,236.80 C323.45,238.04 333.23,241.46 335.21,242.23 C337.20,243.00 335.28,244.27 341.28,244.50 C347.28,244.73 389.81,244.50 395.20,244.50" fill="none" stroke="#383838" stroke-width="1.1" stroke-linejoin="round" opacity="1"/>
<path d="M321.06,244.50 L363.86,244.50" fill="none" stroke="#d45a68" stroke-width="1.5" stroke-linejoin="round" opacity="1"/>
<path d="M36,20.3 H53" stroke="#bc3e4c" stroke-width="1.5" opacity="0.55"/>
<text x="56.6" y="22.8" font-size="7.2" text-anchor="start" font-weight="normal" fill="#222" textLength="13.8" lengthAdjust="spacingAndGlyphs" style="stroke-width:0.08px">2015</text>
<path d="M36,27.6 H53" stroke="#c85a68" stroke-width="1.5" stroke-dasharray="5,2.5" opacity="0.55"/>
<text x="56.6" y="30.1" font-size="7.2" text-anchor="start" font-weight="normal" fill="#222" textLength="13.8" lengthAdjust="spacingAndGlyphs" style="stroke-width:0.08px">2016</text>
<path d="M36,34.6 H53" stroke="#5050b8" stroke-width="1.5" opacity="0.55"/>
<text x="56.6" y="37.1" font-size="7.2" text-anchor="start" font-weight="normal" fill="#222" textLength="13.8" lengthAdjust="spacingAndGlyphs" style="stroke-width:0.08px">2017</text>
<path d="M36,42.1 H53" stroke="#4848a8" stroke-width="1.5" stroke-dasharray="5,2.5" opacity="0.55"/>
<text x="56.6" y="44.6" font-size="7.2" text-anchor="start" font-weight="normal" fill="#222" textLength="13.8" lengthAdjust="spacingAndGlyphs" style="stroke-width:0.08px">2018</text>
<path d="M36,49.8 H53" stroke="#484848" stroke-width="1.5" opacity="0.55"/>
<text x="56.6" y="52.3" font-size="7.2" text-anchor="start" font-weight="normal" fill="#222" textLength="58.6" lengthAdjust="spacingAndGlyphs" style="stroke-width:0.08px">long-term average</text>
<text x="84.5" y="8.0" font-size="9" text-anchor="middle" font-weight="normal" fill="#222" textLength="35.6" lengthAdjust="spacingAndGlyphs" style="stroke-width:0.15px">Utqia&#289;vik</text>
<text x="212.5" y="8.0" font-size="9" text-anchor="middle" font-weight="normal" fill="#222" textLength="50.5" lengthAdjust="spacingAndGlyphs" style="stroke-width:0.15px">Colville River</text>
<text x="346.5" y="8.0" font-size="9" text-anchor="middle" font-weight="normal" fill="#222" textLength="50.5" lengthAdjust="spacingAndGlyphs" style="stroke-width:0.15px">Prudhoe Bay</text>
<text x="215" y="280.5" font-size="9.2" text-anchor="middle" font-weight="normal" fill="#222" textLength="46" lengthAdjust="spacingAndGlyphs" >Day in June</text>
<text x="1.1" y="5.6" font-size="6.4" text-anchor="start" font-weight="bold" fill="#222" style="stroke-width:0.1px">A</text>
<text x="147.2" y="5.6" font-size="6.4" text-anchor="start" font-weight="bold" fill="#222" style="stroke-width:0.1px">B</text>
<text x="276" y="5.6" font-size="6.4" text-anchor="start" font-weight="bold" fill="#222" style="stroke-width:0.1px">C</text>
<text x="1.2" y="139" font-size="6.4" text-anchor="start" font-weight="bold" fill="#222" style="stroke-width:0.1px">D</text>
<text x="147.2" y="139" font-size="6.4" text-anchor="start" font-weight="bold" fill="#222" style="stroke-width:0.1px">E</text>
<text x="276.2" y="139" font-size="6.4" text-anchor="start" font-weight="bold" fill="#222" style="stroke-width:0.1px">F</text>
<text transform="translate(8.4,65.8) rotate(-90)" font-size="9.8" text-anchor="middle" fill="#222" textLength="106" lengthAdjust="spacingAndGlyphs">Cumulative temperature (C)</text>
<text transform="translate(7.8,196.1) rotate(-90)" font-size="9.5" text-anchor="middle" fill="#222" textLength="75.5" lengthAdjust="spacingAndGlyphs">Percent snow cover</text>
</svg>
</body></html>
